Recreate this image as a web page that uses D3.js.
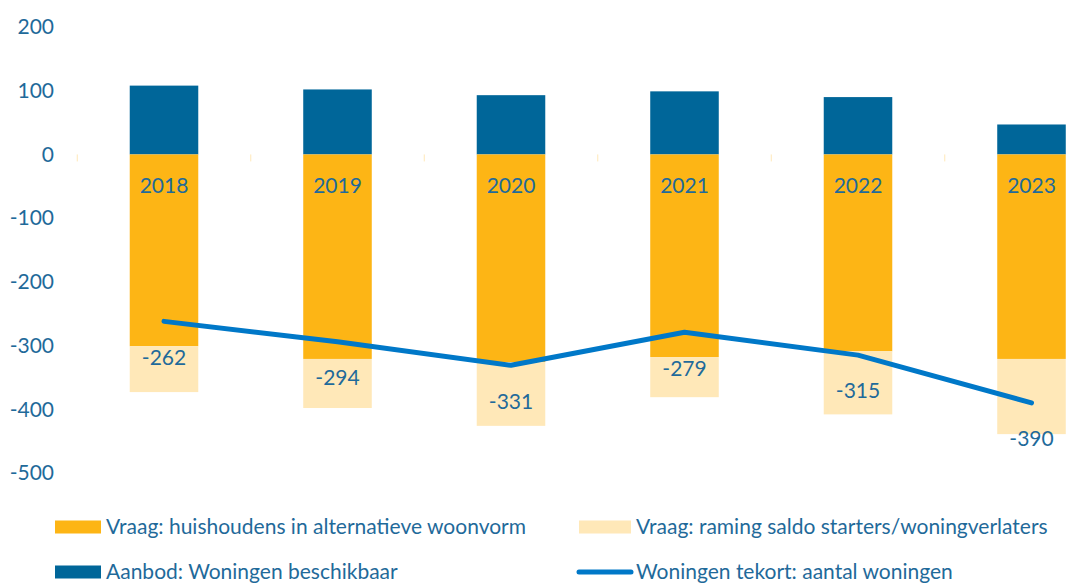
<!DOCTYPE html>
<html>
<head>
<meta charset="utf-8">
<script src="https://cdn.jsdelivr.net/npm/d3@7"></script>
<style>
	body { margin: 0; background: #fff; }
	svg { display: block; font-family: Lato, 'Open Sans', sans-serif; }
</style>
</head>
<body>
<div id="chart"></div>
<script>
// data
const years = ['2018', '2019', '2020', '2021', '2022', '2023']
const aanbod = [108, 102, 93, 99, 90, 47]            // woningen beschikbaar (positive)
const vraagAlt = [-301, -321, -326, -318, -309, -321] // huishoudens in alternatieve woonvorm
const vraagStart = [-72, -77, -100, -63, -99, -118]  // raming saldo starters/woningverlaters
const tekort = [-262, -294, -331, -279, -315, -390]  // woningen tekort
const yTicks = [200, 100, 0, -100, -200, -300, -400, -500]

const width = 1079
const height = 583
const fontSize = '21px'

const colors = {
	alt: '#FDB515',
	start: '#FFE8B8',
	aanbod: '#006699',
	line: '#0078C8',
	text: '#1F6A9A'
}

const svg = d3.select('#chart')
	.append('svg')
	.attr('width', width)
	.attr('height', height)

const x = d3.scaleBand()
	.domain(years)
	.range([77.25, 1118.25])
	.paddingInner(0.605)
	.paddingOuter(0.3025)

const y = d3.scaleLinear()
	.domain([-500, 200])
	.range([473, 27])

// y axis labels, no line (plain hyphen for negatives, like the original)
const yAxis = svg.append('g')
	.attr('transform', 'translate(54,0)')
	.call(d3.axisLeft(y).tickValues(yTicks).tickSize(0).tickPadding(0).tickFormat(d => String(d)))
yAxis.select('.domain').remove()
yAxis.selectAll('text')
	.attr('fill', colors.text)
	.style('font-size', fontSize)
	.style('font-family', 'Lato, sans-serif')

// small tick marks on the zero line between categories
svg.append('g')
	.selectAll('line')
	.data(years)
	.join('line')
	.attr('x1', d => x(d) - x.step() * x.paddingInner() / 2)
	.attr('x2', d => x(d) - x.step() * x.paddingInner() / 2)
	.attr('y1', y(0))
	.attr('y2', y(0) + 7)
	.attr('stroke', '#FFE8B8')
	.attr('stroke-width', 1)

// stacked bars
const rows = years.map((d, i) => ({ year: d, aanbod: aanbod[i], alt: vraagAlt[i], start: vraagStart[i] }))

const bars = svg.append('g')

bars.selectAll('.aanbod')
	.data(rows)
	.join('rect')
	.attr('class', 'aanbod')
	.attr('x', d => x(d.year))
	.attr('width', x.bandwidth())
	.attr('y', d => y(d.aanbod))
	.attr('height', d => y(0) - y(d.aanbod))
	.attr('fill', colors.aanbod)

bars.selectAll('.alt')
	.data(rows)
	.join('rect')
	.attr('class', 'alt')
	.attr('x', d => x(d.year))
	.attr('width', x.bandwidth())
	.attr('y', y(0))
	.attr('height', d => y(d.alt) - y(0))
	.attr('fill', colors.alt)

bars.selectAll('.start')
	.data(rows)
	.join('rect')
	.attr('class', 'start')
	.attr('x', d => x(d.year))
	.attr('width', x.bandwidth())
	.attr('y', d => y(d.alt))
	.attr('height', d => y(d.alt + d.start) - y(d.alt))
	.attr('fill', colors.start)

// category labels sit just under the zero line
svg.append('g')
	.selectAll('text')
	.data(years)
	.join('text')
	.attr('x', d => x(d) + x.bandwidth() / 2)
	.attr('y', y(0) + 31)
	.attr('dy', '0.35em')
	.attr('text-anchor', 'middle')
	.attr('fill', colors.text)
	.style('font-size', fontSize)
	.text(d => d)

// shortage line
const line = d3.line()
	.x((d, i) => x(years[i]) + x.bandwidth() / 2)
	.y(d => y(d))

svg.append('path')
	.datum(tekort)
	.attr('d', line)
	.attr('fill', 'none')
	.attr('stroke', colors.line)
	.attr('stroke-width', 5)
	.attr('stroke-linecap', 'round')
	.attr('stroke-linejoin', 'round')

// line labels below points
svg.append('g')
	.selectAll('text')
	.data(tekort)
	.join('text')
	.attr('x', (d, i) => x(years[i]) + x.bandwidth() / 2)
	.attr('y', d => y(d) + 36)
	.attr('dy', '0.35em')
	.attr('text-anchor', 'middle')
	.attr('fill', colors.text)
	.style('font-size', fontSize)
	.text(d => d)

// legend
const legendItems = [
	{ label: 'Vraag: huishoudens in alternatieve woonvorm', type: 'rect', color: colors.alt, x: 55, y: 527 },
	{ label: 'Vraag: raming saldo starters/woningverlaters', type: 'rect', color: colors.start, x: 579, y: 527 },
	{ label: 'Aanbod: Woningen beschikbaar', type: 'rect', color: colors.aanbod, x: 55, y: 572 },
	{ label: 'Woningen tekort: aantal woningen', type: 'line', color: colors.line, x: 579, y: 572 }
]

const legend = svg.append('g')
	.selectAll('g')
	.data(legendItems)
	.join('g')
	.attr('transform', d => `translate(${d.x},${d.y})`)

legend.filter(d => d.type == 'rect')
	.append('rect')
	.attr('x', 0)
	.attr('y', -6.5)
	.attr('width', d => d.x < 300 ? 46 : 52)
	.attr('height', 13)
	.attr('fill', d => d.color)

legend.filter(d => d.type == 'line')
	.append('line')
	.attr('x1', 0)
	.attr('x2', 52)
	.attr('stroke', d => d.color)
	.attr('stroke-width', 5)
	.attr('stroke-linecap', 'round')

legend.append('text')
	.attr('x', d => d.x < 300 ? 51 : 57)
	.attr('dy', '0.35em')
	.attr('fill', colors.text)
	.style('font-size', fontSize)
	.text(d => d.label)
</script>
</body>
</html>
